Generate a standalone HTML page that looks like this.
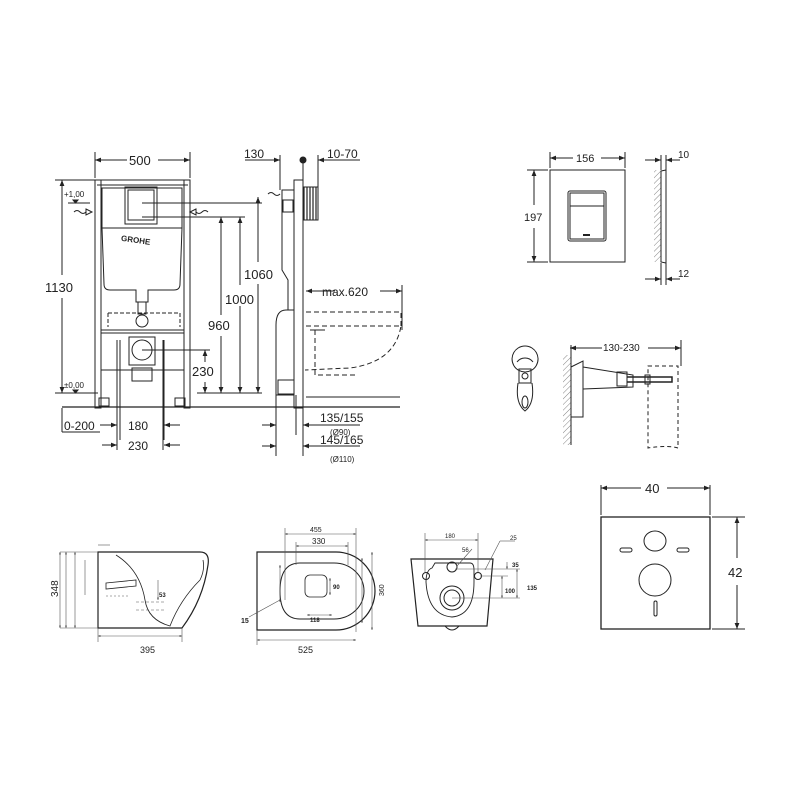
<!DOCTYPE html>
<html><head><meta charset="utf-8"><style>
html,body{margin:0;padding:0;background:#fff}
svg{display:block}
text{font-family:"Liberation Sans",sans-serif;fill:#222}
</style></head><body>
<svg width="800" height="800" viewBox="0 0 800 800" xmlns="http://www.w3.org/2000/svg">
<defs>
<marker id="a" viewBox="0 0 10 10" refX="10" refY="5" markerWidth="6" markerHeight="6" orient="auto-start-reverse"><path d="M0,1 L10,5 L0,9 z" fill="#222"/></marker>
<marker id="b" viewBox="0 0 10 10" refX="10" refY="5" markerWidth="4" markerHeight="4" orient="auto-start-reverse"><path d="M0,1 L10,5 L0,9 z" fill="#444"/></marker>
<pattern id="h" width="4" height="4" patternUnits="userSpaceOnUse" patternTransform="rotate(45)"><line x1="0" y1="0" x2="0" y2="4" stroke="#666" stroke-width="0.8"/></pattern>
<pattern id="v" width="3" height="4" patternUnits="userSpaceOnUse"><line x1="1" y1="0" x2="1" y2="4" stroke="#222" stroke-width="1.2"/></pattern>
</defs>
<g stroke="#222" fill="none" stroke-width="1">
<line x1="62" y1="407" x2="400" y2="407" stroke-width="1.3"/>
<rect x="95" y="180" width="6" height="228"/>
<rect x="184" y="180" width="6" height="228"/>
<line x1="95" y1="180" x2="190" y2="180"/>
<line x1="97" y1="185" x2="188" y2="185"/>
<path d="M102,188 h80 v40 h-80 z"/>
<rect x="125" y="187" width="32" height="37"/>
<rect x="128" y="190" width="26" height="30"/>
<path d="M102,228 L104,284 Q104,290 110,290 L136,290 L136,302 L148,302 L148,290 L174,290 Q180,290 180,284 L182,228"/>
<text x="121" y="242" font-size="8" font-weight="bold" stroke="none" transform="rotate(8 130 240)">GROHE</text>
<path d="M138,302 v12 h8 v-12"/>
<circle cx="142" cy="321" r="6"/>
<path d="M108,313 h72 v14 M108,313 v14" stroke-dasharray="4,2"/>
<line x1="101" y1="330" x2="184" y2="330"/>
<line x1="101" y1="333" x2="184" y2="333"/>
<rect x="129" y="337" width="26" height="28"/>
<circle cx="142" cy="350" r="10"/>
<rect x="132" y="368" width="20" height="13"/>
<line x1="101" y1="370" x2="184" y2="370"/>
<rect x="99" y="398" width="10" height="8"/>
<rect x="175" y="398" width="10" height="8"/>
<line x1="95" y1="152" x2="95" y2="178"/><line x1="190" y1="152" x2="190" y2="178"/>
<line x1="95" y1="160" x2="127" y2="160" marker-start="url(#a)"/>
<line x1="158" y1="160" x2="190" y2="160" marker-end="url(#a)"/>
<line x1="55" y1="180" x2="95" y2="180"/>
<line x1="62" y1="180" x2="62" y2="275" marker-start="url(#a)"/>
<line x1="62" y1="298" x2="62" y2="393" marker-end="url(#a)"/>
<line x1="55" y1="393" x2="98" y2="393"/>
<line x1="68" y1="203" x2="90" y2="203"/>
<path d="M73,200 l5,0 l-2.5,3 z" fill="#222"/>
<path d="M73,390 l5,0 l-2.5,3 z" fill="#222"/>
<path d="M74,212 q3,-3 6,0 q3,3 6,0"/><path d="M86,209 l6,3 l-6,3 z"/>
<path d="M208,212 q-3,-3 -6,0 q-3,3 -6,0"/><path d="M196,209 l-6,3 l6,3 z"/>
<line x1="142" y1="203" x2="262" y2="203"/>
<line x1="142" y1="217" x2="245" y2="217"/>
<line x1="142" y1="350" x2="210" y2="350"/>
<line x1="240" y1="217" x2="240" y2="285" marker-start="url(#a)"/><line x1="240" y1="306" x2="240" y2="393" marker-end="url(#a)"/>
<line x1="221" y1="217" x2="221" y2="315" marker-start="url(#a)"/><line x1="221" y1="336" x2="221" y2="393" marker-end="url(#a)"/>
<line x1="258" y1="197" x2="258" y2="262" marker-start="url(#a)"/><line x1="258" y1="284" x2="258" y2="393" marker-end="url(#a)"/>
<line x1="205" y1="350" x2="205" y2="362" marker-start="url(#a)"/><line x1="205" y1="382" x2="205" y2="393" marker-end="url(#a)"/>
<line x1="197" y1="393" x2="262" y2="393"/>
<line x1="62" y1="408" x2="62" y2="432"/>
<line x1="62" y1="432" x2="100" y2="432"/>
<line x1="120" y1="340" x2="120" y2="440"/><line x1="164" y1="340" x2="164" y2="440"/>
<line x1="117" y1="340" x2="117" y2="450"/><line x1="163" y1="340" x2="163" y2="450"/>
<line x1="100" y1="425" x2="117" y2="425" marker-end="url(#a)"/>
<line x1="180" y1="425" x2="164" y2="425" marker-end="url(#a)"/>
<line x1="102" y1="445" x2="117" y2="445" marker-end="url(#a)"/>
<line x1="180" y1="445" x2="164" y2="445" marker-end="url(#a)"/>

<rect x="294" y="180" width="9" height="228"/>
<rect x="303" y="187" width="15" height="33" fill="url(#v)"/>
<path d="M294,190 h-12 v80 l6,10 v30 l6,0"/>
<rect x="283" y="200" width="10" height="12"/>
<path d="M294,310 h-8 q-10,0 -10,15 v70 h18" />
<rect x="278" y="380" width="16" height="14"/>
<circle cx="303" cy="160" r="3" fill="#222"/>
<line x1="280" y1="155" x2="280" y2="190"/>
<line x1="245" y1="160" x2="280" y2="160" marker-end="url(#a)"/>
<line x1="303" y1="160" x2="303" y2="180"/>
<line x1="318" y1="155" x2="318" y2="187"/>
<line x1="360" y1="160" x2="318" y2="160" marker-end="url(#a)"/>
<path d="M268,194 q3,-3 6,0 q3,3 6,0"/>
<g stroke-dasharray="5,3">
<path d="M306,312 h95 v14"/>
<path d="M306,326 h95 Q395,362 350,368 L305,370"/>
<path d="M315,330 v45 h40"/>
</g>
<line x1="306" y1="291" x2="335" y2="291" marker-start="url(#a)"/>
<line x1="380" y1="291" x2="402" y2="291" marker-end="url(#a)"/>
<line x1="402" y1="285" x2="402" y2="330"/>
<line x1="306" y1="397" x2="400" y2="397"/>
<line x1="310" y1="330" x2="325" y2="330"/>
<line x1="276" y1="395" x2="276" y2="456"/>
<line x1="296" y1="395" x2="296" y2="435"/>
<line x1="303" y1="408" x2="303" y2="456"/>
<line x1="262" y1="425" x2="276" y2="425" marker-end="url(#a)"/>
<line x1="318" y1="425" x2="303" y2="425" marker-end="url(#a)"/>
<line x1="262" y1="446" x2="276" y2="446" marker-end="url(#a)"/>
<line x1="318" y1="446" x2="303" y2="446" marker-end="url(#a)"/>
<line x1="318" y1="425" x2="360" y2="425"/><line x1="318" y1="446" x2="360" y2="446"/>

<rect x="550" y="170" width="75" height="92"/>
<rect x="568" y="191" width="38" height="50" rx="2"/>
<rect x="570" y="193" width="34" height="46"/>
<line x1="570" y1="206" x2="604" y2="206"/>
<line x1="583" y1="235" x2="590" y2="235" stroke-width="2"/>
<line x1="550" y1="152" x2="550" y2="168"/><line x1="625" y1="152" x2="625" y2="168"/>
<line x1="550" y1="158" x2="573" y2="158" marker-start="url(#a)"/>
<line x1="601" y1="158" x2="625" y2="158" marker-end="url(#a)"/>
<line x1="527" y1="170" x2="548" y2="170"/><line x1="527" y1="262" x2="548" y2="262"/>
<line x1="534" y1="170" x2="534" y2="205" marker-start="url(#a)"/>
<line x1="534" y1="228" x2="534" y2="262" marker-end="url(#a)"/>
<rect x="654" y="170" width="7" height="92" fill="url(#h)" stroke="none"/>
<path d="M661,171 l5,-1 v93 l-5,-1 z"/>
<line x1="661" y1="155" x2="661" y2="170"/><line x1="666" y1="155" x2="666" y2="170"/>
<line x1="645" y1="160" x2="661" y2="160" marker-end="url(#a)"/>
<line x1="680" y1="160" x2="666" y2="160" marker-end="url(#a)"/>
<line x1="661" y1="263" x2="661" y2="285"/><line x1="666" y1="263" x2="666" y2="285"/>
<line x1="645" y1="279" x2="661" y2="279" marker-end="url(#a)"/>
<line x1="680" y1="279" x2="666" y2="279" marker-end="url(#a)"/>

<path d="M525,372 a13,13 0 1,1 0.1,0 M518,383 q-3,20 7,28 q10,-8 7,-28"/>
<path d="M517,362 a10,10 0 0,1 16,0" />
<rect x="519" y="369" width="12" height="14"/>
<circle cx="525" cy="376" r="3"/>
<ellipse cx="525" cy="402" rx="3" ry="6"/>
<rect x="563" y="355" width="8" height="90" fill="url(#h)" stroke="none"/>
<line x1="571" y1="345" x2="571" y2="445"/>
<path d="M571,367 l12,-6 v56 h-12"/>
<path d="M583,367 l50,8 v12 l-50,2"/>
<rect x="617" y="372" width="10" height="14"/>
<path d="M627,377 h45 v5 h-45" stroke-width="1.5"/>
<rect x="645" y="375" width="5" height="9"/>
<path d="M648,366 h30 v82 q-10,-3 -30,0 z" stroke-dasharray="4,3"/>
<line x1="681" y1="340" x2="681" y2="366"/>
<line x1="570" y1="348" x2="602" y2="348" marker-start="url(#a)"/>
<line x1="648" y1="348" x2="681" y2="348" marker-end="url(#a)"/>

<path d="M98,552 H200 Q210,552 208,565 Q203,600 182,628 H98 Z" stroke-width="1.2"/>
<path d="M116,555 Q140,570 145,600 Q148,620 170,626 Q180,600 200,580 Q205,570 203,560" stroke-width="0.8"/>
<path d="M106,583 l30,-3 v6 l-30,3 z" stroke-width="0.8"/>
<g stroke-width="0.6" stroke="#555">
<line x1="60" y1="552" x2="98" y2="552"/><line x1="60" y1="628" x2="98" y2="628"/>
<line x1="60" y1="552" x2="60" y2="628" marker-start="url(#b)" marker-end="url(#b)"/>
<line x1="66" y1="552" x2="66" y2="628" marker-start="url(#b)" marker-end="url(#b)"/>
<line x1="75" y1="552" x2="75" y2="628" marker-start="url(#b)" marker-end="url(#b)"/>
<line x1="85" y1="560" x2="85" y2="595"/>
<line x1="98" y1="636" x2="182" y2="636" marker-start="url(#b)" marker-end="url(#b)"/>
<line x1="98" y1="628" x2="98" y2="642"/><line x1="182" y1="628" x2="182" y2="642"/>
<line x1="158" y1="580" x2="158" y2="600" marker-end="url(#b)"/>
<line x1="136" y1="602" x2="165" y2="602" stroke-dasharray="3,2"/>
<line x1="136" y1="610" x2="165" y2="610" stroke-dasharray="3,2"/>
<line x1="106" y1="596" x2="130" y2="596" stroke-dasharray="2,2"/>
<line x1="98" y1="545" x2="110" y2="545"/>
</g>

<path d="M257,552 H336 A38,38 0 0,1 336,630 H257 Z" stroke-width="1.2"/>
<path d="M300,563 H334 A30,28 0 0,1 334,619 H300 Q280,619 280,591 Q280,563 300,563 Z" stroke-width="1"/>
<rect x="305" y="575" width="22" height="22" rx="5" stroke-width="0.8"/>
<g stroke-width="0.6" stroke="#555">
<line x1="285" y1="534" x2="356" y2="534" marker-start="url(#b)" marker-end="url(#b)"/>
<line x1="296" y1="546" x2="348" y2="546" marker-start="url(#b)" marker-end="url(#b)"/>
<line x1="285" y1="528" x2="285" y2="600"/><line x1="356" y1="528" x2="356" y2="632"/>
<line x1="296" y1="542" x2="296" y2="565"/><line x1="348" y1="542" x2="348" y2="565"/>
<line x1="257" y1="640" x2="356" y2="640" marker-start="url(#b)" marker-end="url(#b)"/>
<line x1="257" y1="630" x2="257" y2="645"/>
<line x1="372" y1="552" x2="372" y2="630" marker-start="url(#b)" marker-end="url(#b)"/>
<line x1="362" y1="558" x2="362" y2="623" marker-start="url(#b)" marker-end="url(#b)"/>
<line x1="280" y1="565" x2="280" y2="602" marker-start="url(#b)" marker-end="url(#b)"/>
<line x1="307" y1="615" x2="332" y2="615" marker-start="url(#b)" marker-end="url(#b)"/>
<line x1="249" y1="617" x2="280" y2="600"/>
<line x1="330" y1="578" x2="330" y2="595" marker-start="url(#b)" marker-end="url(#b)"/>
</g>

<path d="M411,559 H493 L487,626 H418 Z" stroke-width="1.2"/>
<path d="M435,563 H470 Q474,563 474,570 V582 Q474,615 452,617 Q428,615 426,582 Q426,570 432,568 Z" stroke-width="0.9"/>
<circle cx="452" cy="567" r="5"/><circle cx="426" cy="576" r="3.5"/><circle cx="478" cy="576" r="3.5"/>
<circle cx="452" cy="598" r="12"/><circle cx="452" cy="598" r="8"/>
<path d="M445,626 q7,8 14,0"/>
<g stroke-width="0.6" stroke="#555">
<line x1="425" y1="540" x2="478" y2="540" marker-start="url(#b)" marker-end="url(#b)"/>
<line x1="425" y1="533" x2="425" y2="572"/><line x1="478" y1="533" x2="478" y2="572"/>
<line x1="457" y1="566" x2="472" y2="549"/>
<line x1="485" y1="570" x2="500" y2="541" /><line x1="500" y1="541" x2="515" y2="541"/>
<line x1="455" y1="569" x2="520" y2="569"/>
<line x1="480" y1="576" x2="508" y2="576"/>
<line x1="452" y1="598" x2="520" y2="598"/>
<line x1="502" y1="576" x2="502" y2="598" marker-start="url(#b)" marker-end="url(#b)"/>
<line x1="517" y1="569" x2="517" y2="598" marker-start="url(#b)" marker-end="url(#b)"/>
<line x1="507" y1="562" x2="507" y2="569" marker-end="url(#b)"/>
</g>

<rect x="601" y="517" width="109" height="112" stroke-width="1.3"/>
<ellipse cx="655" cy="541" rx="11" ry="10"/>
<rect x="620" y="548" width="12" height="4" rx="2"/>
<rect x="677" y="548" width="12" height="4" rx="2"/>
<ellipse cx="655" cy="580" rx="16" ry="16"/>
<rect x="654" y="601" width="3" height="15" rx="1.5"/>
<line x1="601" y1="485" x2="601" y2="515"/><line x1="710" y1="485" x2="710" y2="515"/>
<line x1="601" y1="488" x2="641" y2="488" marker-start="url(#a)"/>
<line x1="667" y1="488" x2="710" y2="488" marker-end="url(#a)"/>
<line x1="712" y1="517" x2="745" y2="517"/><line x1="712" y1="629" x2="745" y2="629"/>
<line x1="737" y1="517" x2="737" y2="558" marker-start="url(#a)"/>
<line x1="737" y1="585" x2="737" y2="629" marker-end="url(#a)"/>
</g>

<g stroke="none">
<text x="129" y="165" font-size="13">500</text>
<text x="45" y="292" font-size="13">1130</text>
<text x="64" y="197" font-size="8">+1,00</text>
<text x="64" y="388" font-size="8">±0,00</text>
<text x="244" y="279" font-size="13">1060</text>
<text x="225" y="304" font-size="13">1000</text>
<text x="208" y="330" font-size="13">960</text>
<text x="192" y="376" font-size="13">230</text>
<text x="64" y="430" font-size="12">0-200</text>
<text x="128" y="430" font-size="12">180</text>
<text x="128" y="450" font-size="12">230</text>
<text x="244" y="158" font-size="12">130</text>
<text x="327" y="158" font-size="12">10-70</text>
<text x="322" y="296" font-size="12">max.620</text>
<text x="320" y="422" font-size="12">135/155</text>
<text x="330" y="435" font-size="8">(Ø90)</text>
<text x="320" y="444" font-size="12">145/165</text>
<text x="330" y="462" font-size="8">(Ø110)</text>
<text x="576" y="162" font-size="11">156</text>
<text x="524" y="221" font-size="11">197</text>
<text x="678" y="158" font-size="10">10</text>
<text x="678" y="277" font-size="10">12</text>
<text x="603" y="351" font-size="10">130-230</text>
<text x="58" y="597" font-size="10" transform="rotate(-90 58 597)">348</text>
<text x="140" y="653" font-size="9">395</text>
<text x="159" y="597" font-size="6" font-weight="bold">53</text>
<text x="310" y="532" font-size="7">455</text>
<text x="312" y="544" font-size="8">330</text>
<text x="298" y="653" font-size="9">525</text>
<text x="241" y="623" font-size="7" font-weight="bold">15</text>
<text x="310" y="622" font-size="6" font-weight="bold">118</text>
<text x="333" y="589" font-size="6" font-weight="bold">90</text>
<text x="384" y="596" font-size="7" transform="rotate(-90 384 596)">360</text>
<text x="445" y="538" font-size="6">180</text>
<text x="462" y="552" font-size="6">56</text>
<text x="510" y="540" font-size="6">25</text>
<text x="512" y="567" font-size="6" font-weight="bold">35</text>
<text x="505" y="593" font-size="6" font-weight="bold">100</text>
<text x="527" y="590" font-size="6" font-weight="bold">135</text>
<text x="645" y="493" font-size="13">40</text>
<text x="728" y="577" font-size="13">42</text>
</g>
</svg>
</body></html>
